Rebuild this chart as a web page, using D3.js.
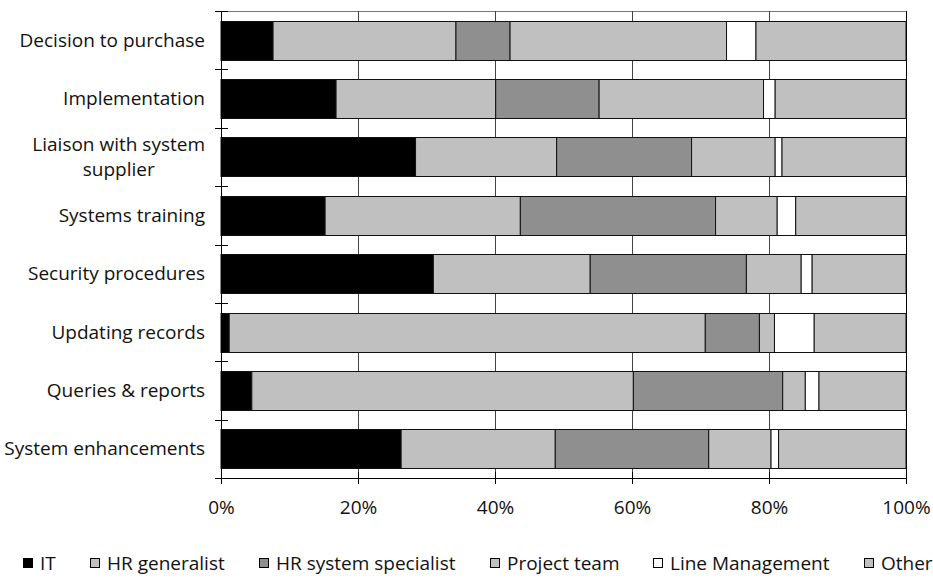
<!DOCTYPE html>
<html>
<head>
<meta charset="utf-8">
<script src="https://cdn.jsdelivr.net/npm/d3@7/dist/d3.min.js"></script>
<style>
  html, body { margin: 0; padding: 0; background: #fff; }
  svg { display: block; }
  text { font-family: "Open Sans", "Noto Sans", sans-serif; fill: #111; }
</style>
</head>
<body>
<svg id="chart" width="933" height="578"></svg>
<script>
// Activity categories (top to bottom)
const categories = [
  ["Decision to purchase"],
  ["Implementation"],
  ["Liaison with system", "supplier"],
  ["Systems training"],
  ["Security procedures"],
  ["Updating records"],
  ["Queries & reports"],
  ["System enhancements"]
];

// Who is responsible, share in % per category
const seriesNames = ["IT", "HR generalist", "HR system specialist", "Project team", "Line Management", "Other"];
const itShare          = [7.6, 16.8, 28.4, 15.2, 31.0, 1.2, 4.5, 26.3];
const hrGeneralist     = [26.7, 23.3, 20.6, 28.5, 22.9, 69.5, 55.7, 22.5];
const hrSpecialist     = [7.9, 15.1, 19.7, 28.5, 22.8, 7.9, 21.8, 22.4];
const projectTeam      = [31.6, 24.0, 12.2, 9.0, 8.0, 2.2, 3.3, 9.1];
const lineManagement   = [4.3, 1.7, 1.0, 2.7, 1.6, 5.8, 2.0, 1.1];
const otherShare       = [21.9, 19.1, 18.1, 16.1, 13.7, 13.4, 12.7, 18.6];

const xTicks = [0, 20, 40, 60, 80, 100];
const seriesColors = ["#000000", "#c0c0c0", "#8f8f8f", "#c0c0c0", "#ffffff", "#c0c0c0"];

const seriesValues = [itShare, hrGeneralist, hrSpecialist, projectTeam, lineManagement, otherShare];
const rows = categories.map((c, i) => {
  const r = { key: c.join(" ") };
  seriesNames.forEach((s, j) => { r[s] = seriesValues[j][i]; });
  return r;
});

const FONT = 19;
const svg = d3.select("#chart");
const margin = { left: 221, right: 27, top: 11, bottom: 100 };
const W = 933, H = 578;
const plotW = W - margin.left - margin.right;
const plotH = H - margin.top - margin.bottom;

const x = d3.scaleLinear().domain([0, 100]).range([margin.left, margin.left + plotW]);
const y = d3.scaleBand().domain(rows.map(r => r.key))
  .range([margin.top, margin.top + plotH]).paddingInner(0.33).paddingOuter(0.165);

// plot frame: top rule and right edge
svg.append("line").attr("x1", x(0)).attr("x2", x(100))
  .attr("y1", margin.top + 0.5).attr("y2", margin.top + 0.5)
  .attr("stroke", "#777").attr("stroke-width", 1);
svg.append("line").attr("x1", Math.round(x(100)) + 0.5).attr("x2", Math.round(x(100)) + 0.5)
  .attr("y1", margin.top).attr("y2", margin.top + plotH)
  .attr("stroke", "#000").attr("stroke-width", 1);

// vertical gridlines
svg.append("g").selectAll("line").data(xTicks.filter(t => t > 0 && t < 100)).join("line")
  .attr("x1", d => Math.round(x(d)) + 0.5).attr("x2", d => Math.round(x(d)) + 0.5)
  .attr("y1", margin.top).attr("y2", margin.top + plotH)
  .attr("stroke", "#444").attr("stroke-width", 1);

// stacked bars
const stack = d3.stack().keys(seriesNames)(rows);
svg.append("g").selectAll("g").data(stack).join("g")
  .attr("fill", (d, i) => seriesColors[i])
  .selectAll("rect").data(d => d).join("rect")
  .attr("x", d => x(d[0]))
  .attr("width", d => x(d[1]) - x(d[0]))
  .attr("y", d => Math.round(y(d.data.key)) + 0.5)
  .attr("height", Math.round(y.bandwidth()))
  .attr("stroke", "#111").attr("stroke-width", 1);

// bottom axis
const xAxis = d3.axisBottom(x).tickValues(xTicks).tickFormat(d => d + "%")
  .tickSizeInner(6).tickSizeOuter(0).tickPadding(17);
const gx = svg.append("g").attr("transform", `translate(0,${margin.top + plotH})`).call(xAxis);
gx.select(".domain").attr("stroke", "#000");
gx.selectAll(".tick line").attr("stroke", "#000").attr("y1", -6).attr("y2", 6);
gx.selectAll(".tick text").attr("font-size", FONT).attr("font-family", "Open Sans, sans-serif").attr("fill", "#111");

// left axis: boundary ticks between categories
svg.append("line").attr("x1", margin.left + 0.5).attr("x2", margin.left + 0.5)
  .attr("y1", margin.top).attr("y2", margin.top + plotH).attr("stroke", "#000");
const bounds = d3.range(categories.length + 1).map(i => margin.top + i * (plotH / categories.length));
svg.append("g").selectAll("line").data(bounds).join("line")
  .attr("x1", margin.left - 6).attr("x2", margin.left + 7)
  .attr("y1", d => Math.round(d) + 0.5).attr("y2", d => Math.round(d) + 0.5)
  .attr("stroke", "#000");

// category labels; wrapped lines are centred under the first line
const labelRight = 205;
const labels = svg.append("g").selectAll("text").data(categories).join("text")
  .attr("font-size", FONT)
  .attr("text-anchor", "end")
  .attr("transform", (d, i) => `translate(${labelRight},${y(rows[i].key) + y.bandwidth() / 2})`);
labels.each(function (lines) {
  const t = d3.select(this);
  const n = lines.length;
  const first = t.append("tspan").attr("x", 0).attr("y", (0 - (n - 1) / 2) * 25).attr("dy", "0.35em").text(lines[0]);
  const w = first.node().getComputedTextLength();
  lines.slice(1).forEach((line, k) => {
    t.append("tspan").attr("text-anchor", "middle").attr("x", -w / 2)
      .attr("y", (k + 1 - (n - 1) / 2) * 25).attr("dy", "0.35em").text(line);
  });
});

// legend
const legendX = [23, 90, 259, 490, 653, 864];
const legend = svg.append("g").selectAll("g").data(seriesNames).join("g")
  .attr("transform", (d, i) => `translate(${legendX[i]},558)`);
legend.append("rect").attr("x", 0.5).attr("y", 0.5).attr("width", 9).attr("height", 9)
  .attr("fill", (d, i) => seriesColors[i]).attr("stroke", "#000");
legend.append("text").attr("x", 17).attr("y", 5).attr("dy", "0.35em")
  .attr("font-size", FONT).text(d => d);
</script>
</body>
</html>
